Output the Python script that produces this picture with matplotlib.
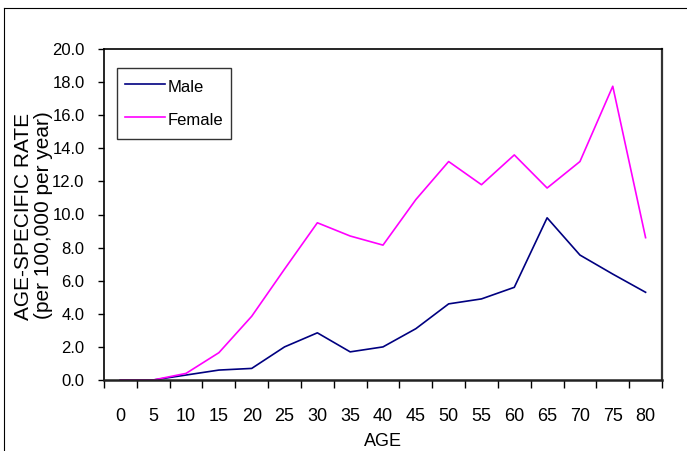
import matplotlib
matplotlib.use("Agg")
import matplotlib.pyplot as plt
from matplotlib.lines import Line2D

ages = ["0", "5", "10", "15", "20", "25", "30", "35", "40", "45", "50", "55", "60", "65", "70", "75", "80"]
male = [0.0, 0.0, 0.3, 0.6, 0.7, 2.0, 2.85, 1.7, 2.0, 3.1, 4.6, 4.9, 5.6, 9.8, 7.55, 6.4, 5.3]
female = [0.0, 0.0, 0.4, 1.65, 3.85, 6.7, 9.5, 8.7, 8.15, 10.9, 13.2, 11.8, 13.6, 11.6, 13.2, 17.75, 8.6]
yticks = [0, 2, 4, 6, 8, 10, 12, 14, 16, 18, 20]

plt.rcParams['font.family'] = ['Liberation Sans', 'DejaVu Sans']
W, H = 687, 451
fig = plt.figure(figsize=(W / 100, H / 100), dpi=100)
ax = fig.add_axes([104 / W, 1 - 380 / H, (662 - 104) / W, (380 - 49) / H])

x = list(range(len(ages)))
ax.plot(x, male, color='#000080', lw=1.2, label='Male')
ax.plot(x, female, color='#FF00FF', lw=1.2, label='Female')

ax.set_xlim(-0.5, len(ages) - 0.5)
ax.set_ylim(0, 20)
ax.set_yticks(yticks)
ax.set_yticklabels([f"{v:.1f}" for v in yticks], fontsize=12)
ax.tick_params(axis='y', direction='out', length=4, width=1, pad=10)

ax.set_xticks([i - 0.5 for i in range(len(ages) + 1)])
ax.set_xticklabels([])
ax.set_xticks(x, minor=True)
ax.set_xticklabels(ages, minor=True, fontsize=13)
ax.tick_params(axis='x', which='major', direction='out', length=6, width=1)
ax.tick_params(axis='x', which='minor', length=0, pad=20)

for side in ['top', 'left']:
    ax.spines[side].set_linewidth(1.2)
    ax.spines[side].set_color('black')
ax.spines['right'].set_linewidth(1.6)
ax.spines['right'].set_color('#333333')
ax.spines['bottom'].set_linewidth(1.8)
ax.spines['bottom'].set_color('#222222')

leg = ax.legend(loc='upper left', bbox_to_anchor=((117 - 104) / (662 - 104), (380 - 68) / (380 - 49)),
                fontsize=12, frameon=True, fancybox=False, edgecolor='black',
                handlelength=2.4, handletextpad=0.2, handleheight=1.7, borderpad=0.45,
                labelspacing=0.65, borderaxespad=0)
leg.get_frame().set_linewidth(1.0)

fig.text(383 / W, 1 - 441 / H, "AGE", ha='center', va='center', fontsize=13)
fig.text(24 / W, 1 - 216 / H, "AGE-SPECIFIC RATE", ha='center', va='center',
         rotation=90, fontsize=15)
fig.text(44 / W, 1 - 215 / H, "(per 100,000 per year)", ha='center', va='center',
         rotation=90, fontsize=15)

fig.add_artist(Line2D([4 / W, 4 / W], [0, 1 - 8 / H], transform=fig.transFigure, color='black', lw=0.8))
fig.add_artist(Line2D([4 / W, 1], [1 - 8 / H, 1 - 8 / H], transform=fig.transFigure, color='black', lw=0.8))

fig.savefig("out.png", dpi=100)
